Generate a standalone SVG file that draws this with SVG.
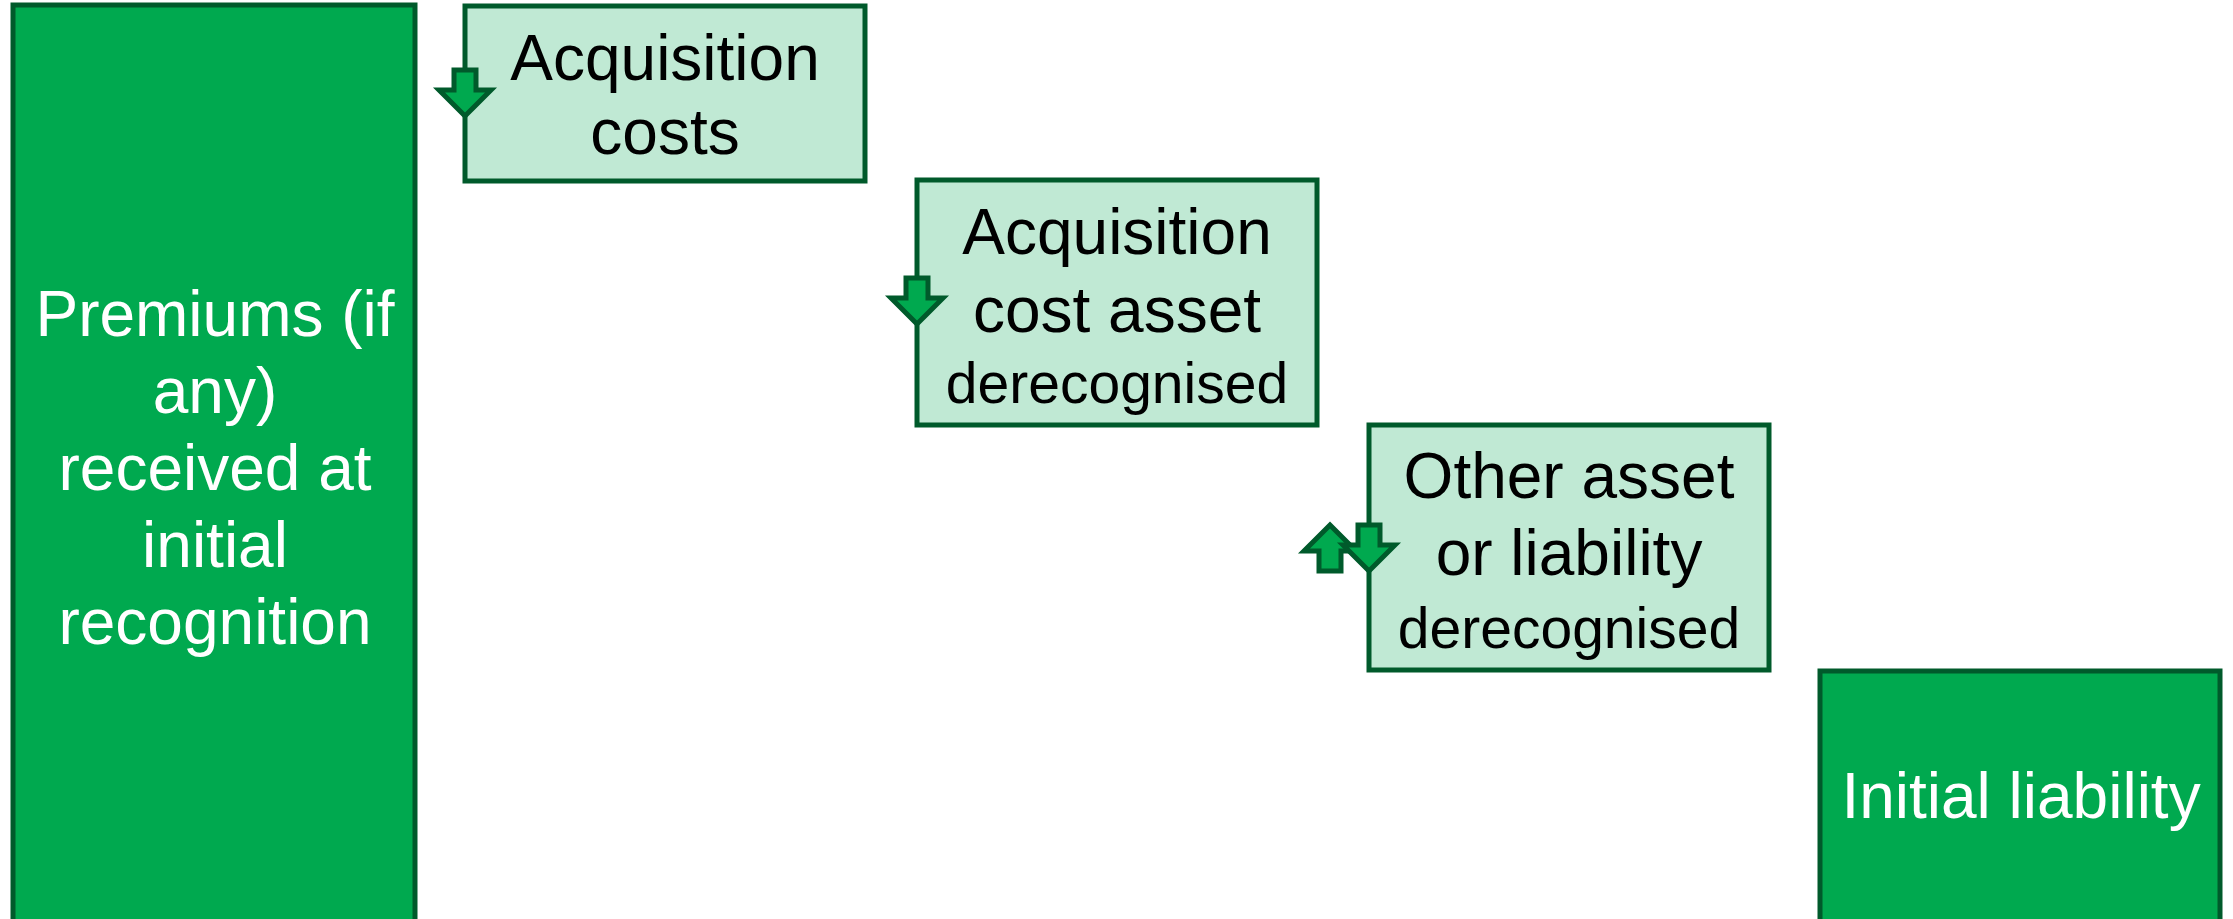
<svg xmlns="http://www.w3.org/2000/svg" width="2233" height="919" viewBox="0 0 2233 919">
  <style>
    .dark { fill: #00a94f; stroke: #005a2b; stroke-width: 5; }
    .light { fill: #c0e9d4; stroke: #005a2b; stroke-width: 5; }
    .arrow { fill: #00a94f; stroke: #005a2b; stroke-width: 5; stroke-linejoin: miter; }
    text { font-family: "Liberation Sans", Arial, sans-serif; text-anchor: middle; }
    .w { fill: #ffffff; font-size: 64px; }
    .b { fill: #000000; font-size: 64px; }
    .s { fill: #000000; font-size: 57px; }
  </style>
  <defs>
    <!-- block arrow pointing down, origin at the top of the shaft -->
    <polygon id="arrowDown" points="-11,0 11,0 11,20 26,20 0,46 -26,20 -11,20"/>
    <!-- block arrow pointing up, origin at the tip -->
    <polygon id="arrowUp" points="0,0 26,26 11,26 11,46 -11,46 -11,26 -26,26"/>
  </defs>

  <rect width="2233" height="919" fill="#ffffff"/>

  <g id="premiums">
    <rect class="dark" x="13" y="5" width="402" height="930"/>
    <text class="w" x="215" y="336">Premiums (if</text>
    <text class="w" x="215" y="413">any)</text>
    <text class="w" x="215" y="490">received at</text>
    <text class="w" x="215" y="567">initial</text>
    <text class="w" x="215" y="644">recognition</text>
  </g>

  <g id="acquisition-costs">
    <rect class="light" x="465" y="6" width="400" height="175"/>
    <text class="b" x="665" y="80">Acquisition</text>
    <text class="b" x="665" y="154">costs</text>
  </g>

  <g id="acquisition-cost-asset">
    <rect class="light" x="917" y="180" width="400" height="245"/>
    <text class="b" x="1117" y="254">Acquisition</text>
    <text class="b" x="1117" y="332">cost asset</text>
    <text class="s" x="1117" y="403">derecognised</text>
  </g>

  <g id="other-asset-liability">
    <rect class="light" x="1369" y="425" width="400" height="245"/>
    <text class="b" x="1569" y="498">Other asset</text>
    <text class="b" x="1569" y="575">or liability</text>
    <text class="s" x="1569" y="648">derecognised</text>
  </g>

  <g id="initial-liability">
    <rect class="dark" x="1820" y="671" width="400" height="270"/>
    <text class="w" x="2021" y="818">Initial liability</text>
  </g>

  <g id="connectors">
    <use href="#arrowDown" class="arrow" x="465" y="70"/>
    <use href="#arrowDown" class="arrow" x="917" y="278"/>
    <use href="#arrowUp" class="arrow" x="1330" y="525"/>
    <use href="#arrowDown" class="arrow" x="1369" y="525"/>
  </g>
</svg>
